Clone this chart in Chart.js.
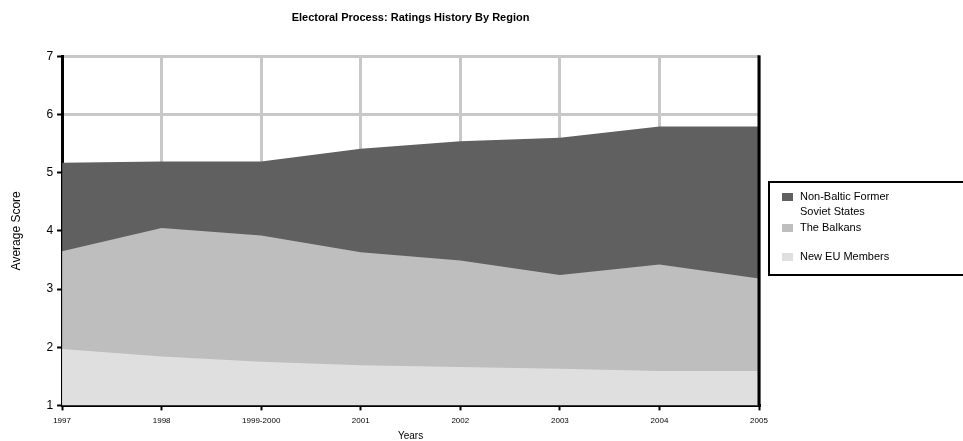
<!DOCTYPE html>
<html>
<head>
<meta charset="utf-8">
<script src="https://cdn.jsdelivr.net/npm/chart.js@4/dist/chart.umd.min.js"></script>
<style>
  html, body { margin: 0; padding: 0; background: #fff; }
  #wrap { position: relative; width: 963px; height: 441px; }
  #legend {
    position: absolute; left: 768px; top: 181px; width: 205px; height: 95px;
    border: 2px solid #000; box-sizing: border-box;
    font-family: "Liberation Sans", Arial, sans-serif; font-size: 11px; color: #000;
  }
  .item { position: absolute; left: 12px; }
  .sw { position: absolute; left: 0; width: 11px; height: 8px; }
  .txt { position: absolute; left: 18px; white-space: nowrap; line-height: 15px; }
</style>
</head>
<body>
<div id="wrap">
  <canvas id="grafico" width="963" height="441"></canvas>
  <div id="legend"></div>
</div>
<script>
//Dados
const anos = ["1997", "1998", "1999-2000", "2001", "2002", "2003", "2004", "2005"];
const naoBalticos = [5.17, 5.19, 5.19, 5.41, 5.54, 5.60, 5.79, 5.79];
const balcas = [3.65, 4.05, 3.92, 3.63, 3.49, 3.24, 3.42, 3.18];
const novosUE = [1.97, 1.84, 1.75, 1.69, 1.66, 1.63, 1.59, 1.59];
const ticksY = [1, 2, 3, 4, 5, 6, 7];

const fonte = "'Liberation Sans', Arial, sans-serif";

//Borda direita preta
const bordaDireita = {
  id: "bordaDireita",
  afterDatasetsDraw(chart) {
    const { ctx, chartArea } = chart;
    ctx.save();
    ctx.strokeStyle = "#000";
    ctx.lineWidth = 3;
    ctx.beginPath();
    ctx.moveTo(chartArea.right, chartArea.top - 1);
    ctx.lineTo(chartArea.right, chartArea.bottom);
    ctx.stroke();
    ctx.restore();
  }
};

const grafico = new Chart(document.getElementById("grafico"), {
  type: "line",
  data: {
    labels: anos,
    datasets: [
      { label: "New EU Members", data: novosUE, backgroundColor: "#dfdfdf", fill: "start" },
      { label: "The Balkans", data: balcas, backgroundColor: "#bebebe", fill: "start" },
      { label: "Non-Baltic Former Soviet States", data: naoBalticos, backgroundColor: "#606060", fill: "start" }
    ]
  },
  options: {
    responsive: false,
    animation: false,
    elements: {
      line: { borderWidth: 0, tension: 0 },
      point: { radius: 0 }
    },
    layout: { padding: { left: 9, right: 204, top: 11, bottom: 0 } },
    scales: {
      x: {
        offset: false,
        grid: { color: "#c8c8c8", lineWidth: 3, tickColor: "#000", tickLength: 5, tickWidth: 2, drawOnChartArea: true },
        border: { color: "#000", width: 3 },
        ticks: { color: "#000", font: { family: fonte, size: 8 }, maxRotation: 0, padding: 6 },
        title: { display: true, text: "Years", color: "#000", font: { family: fonte, size: 10 }, padding: { top: -2, bottom: -1 } }
      },
      y: {
        min: 1,
        max: 7,
        afterBuildTicks: (eixo) => { eixo.ticks = ticksY.map((v) => ({ value: v })); },
        grid: { color: "#c8c8c8", lineWidth: 3, tickColor: "#000", tickLength: 5, tickWidth: 2 },
        border: { color: "#000", width: 3 },
        ticks: { color: "#000", font: { family: fonte, size: 12 }, padding: 4 },
        title: { display: true, text: "Average Score", color: "#000", font: { family: fonte, size: 12 }, padding: { top: 0, bottom: 19 } }
      }
    },
    plugins: {
      legend: { display: false },
      tooltip: { enabled: false },
      title: {
        display: true,
        fullSize: false,
        text: "Electoral Process: Ratings History By Region",
        color: "#000",
        font: { family: fonte, size: 11, weight: "bold" },
        padding: { top: 0, bottom: 32 }
      }
    }
  },
  plugins: [bordaDireita]
});

//Legenda
const itensLegenda = [
  { linhas: ["Non-Baltic Former", "Soviet States"], cor: "#606060", top: 9 },
  { linhas: ["The Balkans"], cor: "#bebebe", top: 40 },
  { linhas: ["New EU Members"], cor: "#dfdfdf", top: 69 }
];
const legenda = document.getElementById("legend");
itensLegenda.forEach((item) => {
  const div = document.createElement("div");
  div.className = "item";
  div.style.top = item.top + "px";
  div.innerHTML = '<div class="sw" style="top:1px;background:' + item.cor + '"></div>' +
    '<div class="txt" style="top:-3px">' + item.linhas.join("<br>") + "</div>";
  legenda.appendChild(div);
});
</script>
</body>
</html>
